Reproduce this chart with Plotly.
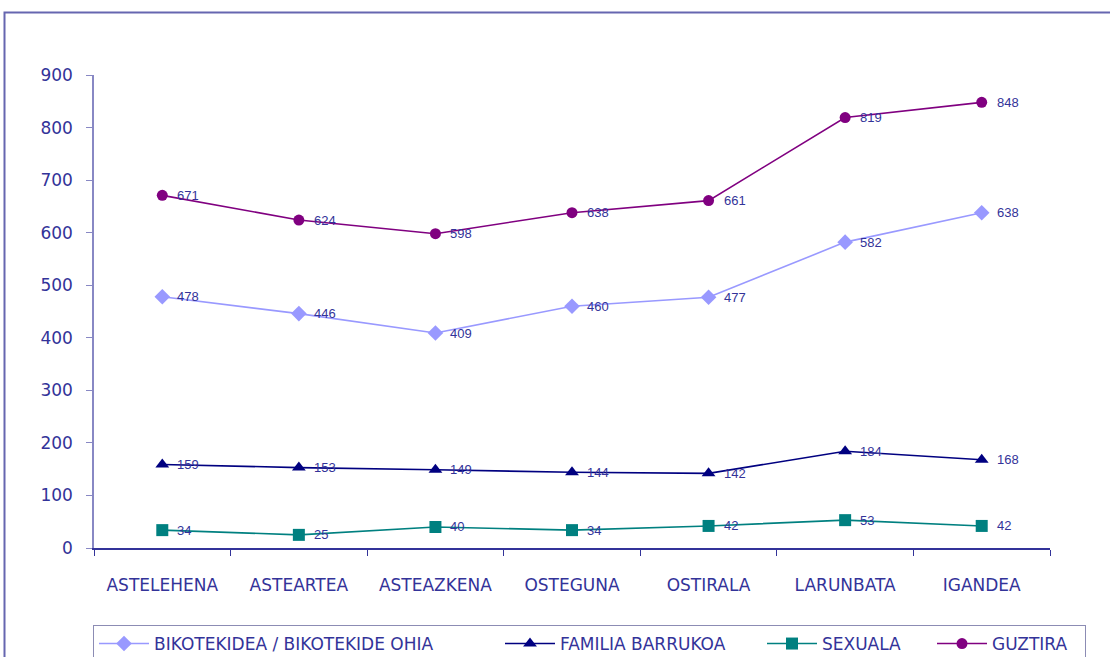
import plotly.graph_objects as go

categories = ["ASTELEHENA", "ASTEARTEA", "ASTEAZKENA", "OSTEGUNA", "OSTIRALA", "LARUNBATA", "IGANDEA"]
bikotekidea = [478, 446, 409, 460, 477, 582, 638]
familia = [159, 153, 149, 144, 142, 184, 168]
sexuala = [34, 25, 40, 34, 42, 53, 42]
guztira = [671, 624, 598, 638, 661, 819, 848]

series = [
    ("BIKOTEKIDEA / BIKOTEKIDE OHIA", bikotekidea, "#9999FF", "diamond", 12, 341),
    ("FAMILIA BARRUKOA", familia, "#000080", "triangle-up", 12, 197),
    ("SEXUALA", sexuala, "#008080", "square", 12, 105),
    ("GUZTIRA", guztira, "#800080", "circle", 11, 88),
]

W, H = 1110, 657
L, R, T, B = 94, 60, 75, 109
pw, ph = W - L - R, H - T - B

fig = go.Figure()
annotations = []
for name, vals, color, sym, size, lw in series:
    fig.add_trace(go.Scatter(
        x=categories, y=vals, name=name, mode="lines+markers",
        line=dict(color=color, width=1.6),
        marker=dict(symbol=sym, size=size, color=color),
        legendwidth=lw,
    ))
    for c, v in zip(categories, vals):
        annotations.append(dict(
            x=c, y=v, xref="x", yref="y", text=str(v), showarrow=False,
            xanchor="left", yanchor="middle", xshift=13,
            font=dict(family="Liberation Sans, Arial", size=13, color="#333399"),
        ))

txt = "#333399"
fig.update_layout(
    width=W, height=H,
    margin=dict(l=L, r=R, t=T, b=B, autoexpand=False),
    paper_bgcolor="white", plot_bgcolor="white",
    showlegend=True,
    legend=dict(
        orientation="h", x=(93 - L) / pw, y=(T + ph - 625) / ph,
        xanchor="left", yanchor="top",
        font=dict(family="DejaVu Sans", size=17, color=txt),
        bordercolor="#8c8cb4", borderwidth=1, bgcolor="white",
        itemwidth=50, tracegroupgap=0,
    ),
    annotations=annotations,
    xaxis=dict(
        type="category", range=[-0.5, 6.5], tickson="boundaries",
        ticks="outside", ticklen=6, tickcolor="#333399",
        showline=True, linecolor="#333399", linewidth=1.5,
        showgrid=False, zeroline=False,
        tickfont=dict(family="DejaVu Sans", size=17, color=txt),
        ticklabelstandoff=21,
    ),
    yaxis=dict(
        range=[0, 900], dtick=100, ticks="outside", ticklen=6,
        tickcolor="#8888c4", showline=True, linecolor="#8888c4", linewidth=1.5,
        showgrid=False, zeroline=False,
        tickfont=dict(family="DejaVu Sans", size=17, color=txt),
        ticklabelstandoff=10,
    ),
    shapes=[dict(
        type="rect", xref="paper", yref="paper",
        x0=(4.5 - L) / pw, x1=(W + 20 - L) / pw,
        y0=(T + ph - 12.5) / ph, y1=(T + ph - (H + 20)) / ph,
        line=dict(color="#6666b0", width=2), fillcolor="rgba(0,0,0,0)", layer="below",
    )],
)

fig.write_html("out.html", config={"displayModeBar": False},
               post_script="document.body.style.margin='0px';document.body.style.overflow='hidden';")
